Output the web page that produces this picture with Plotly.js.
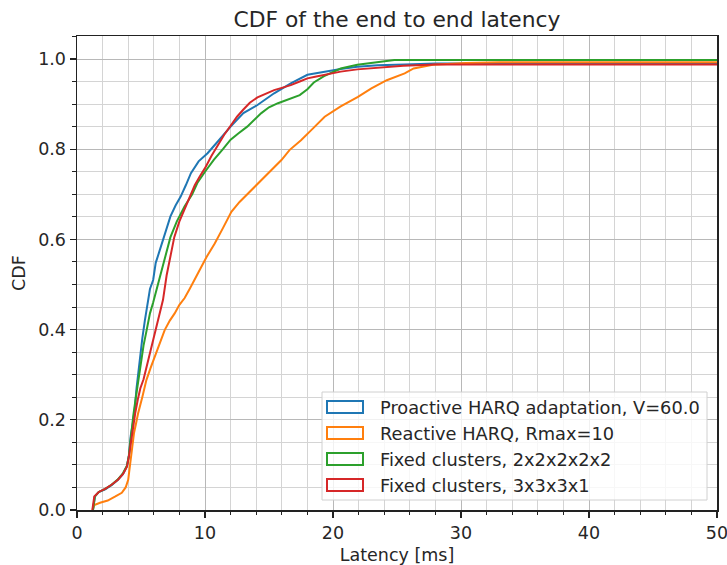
<!DOCTYPE html>
<html>
<head>
<meta charset="utf-8">
<script src="https://cdn.plot.ly/plotly-3.0.1.min.js"></script>
<style>html,body{margin:0;padding:0;background:#fff;}#chart{width:727px;height:565px;}</style>
</head>
<body>
<div id="chart"></div>
<script>
// Series names
const seriesNames = [
  "Proactive HARQ adaptation, V=60.0",
  "Reactive HARQ, Rmax=10",
  "Fixed clusters, 2x2x2x2x2",
  "Fixed clusters, 3x3x3x1"
];
const seriesColors = ["#1f77b4", "#ff7f0e", "#2ca02c", "#d62728"];

// Latency [ms] and CDF values
const proactiveX = [1.25,1.4,1.7,2.2,2.7,3.2,3.6,3.9,4.05,4.2,4.35,4.5,4.65,4.8,4.95,5.1,5.3,5.5,5.7,5.95,6.15,6.4,6.65,7.0,7.3,7.7,8.1,8.5,8.9,9.5,10.2,11.0,12.0,13.0,14.1,15.4,16.7,18.0,19.3,20.6,21.9,23.5,25.6,28,50];
const proactiveY = [0,0.03,0.04,0.046,0.055,0.067,0.08,0.097,0.12,0.165,0.19,0.22,0.27,0.31,0.34,0.38,0.42,0.46,0.49,0.51,0.548,0.57,0.592,0.625,0.651,0.675,0.695,0.72,0.747,0.773,0.791,0.817,0.85,0.88,0.898,0.924,0.946,0.965,0.972,0.978,0.983,0.986,0.988,0.99,0.99];

const reactiveX = [1.2,1.35,1.8,2.4,3.0,3.5,3.8,4.0,4.1,4.25,4.45,4.6,4.77,5.1,5.42,5.75,6.07,6.45,6.85,7.25,7.63,8.0,8.41,8.8,9.2,9.45,10.1,10.76,11.4,12.06,12.7,13.36,14.0,14.66,15.3,15.97,16.6,17.5,18.4,19.35,20.6,21.95,23.0,24.2,25.6,26.3,27.8,30.4,33,50];
const reactiveY = [0,0.011,0.016,0.021,0.03,0.038,0.05,0.067,0.09,0.13,0.17,0.19,0.214,0.25,0.288,0.315,0.34,0.37,0.399,0.42,0.436,0.455,0.47,0.49,0.51,0.525,0.56,0.591,0.625,0.661,0.683,0.702,0.72,0.739,0.758,0.776,0.798,0.82,0.845,0.872,0.895,0.916,0.935,0.953,0.968,0.979,0.987,0.991,0.993,0.993];

const fixed2X = [1.25,1.4,1.7,2.2,2.7,3.2,3.6,3.9,4.05,4.2,4.4,4.6,4.8,5.0,5.2,5.45,5.7,5.95,6.2,6.5,6.8,7.3,7.8,8.4,9.0,9.4,10.0,10.7,11.4,12.0,12.6,13.3,14.4,15.0,15.7,16.7,17.4,18.0,18.5,19.3,20.0,20.6,21.9,23.2,24.8,50];
const fixed2Y = [0,0.03,0.04,0.047,0.056,0.068,0.082,0.098,0.12,0.16,0.21,0.25,0.29,0.33,0.365,0.4,0.436,0.46,0.488,0.52,0.55,0.605,0.64,0.673,0.7,0.725,0.75,0.777,0.8,0.821,0.835,0.85,0.88,0.893,0.902,0.913,0.92,0.933,0.948,0.962,0.972,0.979,0.987,0.992,0.998,0.998];

const fixed3X = [1.2,1.35,1.7,2.2,2.7,3.2,3.6,3.9,4.05,4.2,4.35,4.55,4.75,4.95,5.2,5.45,5.7,5.95,6.2,6.45,6.72,7.0,7.3,7.6,8.0,8.4,8.8,9.2,9.6,10.0,10.5,11.0,11.5,12.0,12.5,13.0,13.5,14.1,14.8,15.4,16.0,16.7,17.4,18.0,18.7,19.3,20.6,21.9,23.5,25.5,28,50];
const fixed3Y = [0,0.03,0.04,0.047,0.056,0.067,0.08,0.096,0.118,0.15,0.18,0.215,0.245,0.27,0.29,0.32,0.35,0.38,0.406,0.44,0.466,0.52,0.56,0.605,0.64,0.668,0.695,0.72,0.74,0.758,0.785,0.81,0.832,0.852,0.872,0.888,0.903,0.915,0.924,0.931,0.936,0.942,0.95,0.957,0.961,0.965,0.972,0.977,0.981,0.985,0.988,0.988];

const xTickVals = [0,10,20,30,40,50];
const xTickText = ["0","10","20","30","40","50"];
const yTickVals = [0,0.2,0.4,0.6,0.8,1.0];
const yTickText = ["0.0","0.2","0.4","0.6","0.8","1.0"];

const xs = [proactiveX, reactiveX, fixed2X, fixed3X];
const ys = [proactiveY, reactiveY, fixed2Y, fixed3Y];

const traces = seriesNames.map((n, i) => ({
  type: "scatter", mode: "lines", name: n,
  x: xs[i], y: ys[i],
  line: {color: seriesColors[i], width: 2, shape: "linear"},
  showlegend: false, hoverinfo: "skip"
}));

// plot area in pixels
const W = 727, H = 565;
const L = 77, R = 717, T = 36, B = 510;
const px = v => (v - L) / (R - L);
const py = v => (B - v) / (B - T);

const font = "DejaVu Sans, sans-serif";
const txt = "#262626";

const shapes = [];
const annotations = [];
// legend box
shapes.push({type: "rect", xref: "paper", yref: "paper",
  x0: px(322), x1: px(707), y0: py(500), y1: py(392),
  fillcolor: "rgba(255,255,255,0.8)", line: {color: "#d0d0d0", width: 1}, layer: "above"});
const rowY = [407, 433, 459, 485];
seriesNames.forEach((n, i) => {
  shapes.push({type: "rect", xref: "paper", yref: "paper",
    x0: px(327), x1: px(363), y0: py(rowY[i] + 6), y1: py(rowY[i] - 6),
    fillcolor: "rgba(0,0,0,0)", line: {color: seriesColors[i], width: 2}, layer: "above"});
  annotations.push({xref: "paper", yref: "paper", x: px(378), y: py(rowY[i]),
    xanchor: "left", yanchor: "middle", showarrow: false, text: n,
    font: {family: font, size: 17.8, color: txt}});
});

const layout = {
  width: W, height: H,
  margin: {l: L, r: W - R, t: T, b: H - B, pad: 0},
  paper_bgcolor: "#fff", plot_bgcolor: "#fff",
  title: {text: "CDF of the end to end latency", font: {family: font, size: 21.8, color: txt},
    x: (L + R) / 2 / W, xanchor: "center", y: 1 - 19 / H, yanchor: "middle", yref: "container"},
  font: {family: font, size: 17.5, color: txt},
  xaxis: {
    range: [-0.0001, 50.0001], tickvals: xTickVals, ticktext: xTickText,
    ticklabeloverflow: "allow",
    showline: true, linecolor: "#222", linewidth: 1.5, mirror: true,
    ticks: "outside", ticklen: 6, tickwidth: 1.4, tickcolor: "#222",
    showgrid: true, gridcolor: "#b8b8b8", gridwidth: 1,
    minor: {dtick: 2, tick0: 0, ticks: "outside", ticklen: 3.5, tickwidth: 1, tickcolor: "#222", showgrid: true, gridcolor: "#d4d4d4", gridwidth: 1},
    zeroline: false,
    title: {text: "Latency [ms]", font: {family: font, size: 17.5, color: txt}, standoff: 7},
    tickfont: {family: font, size: 17.5, color: txt}
  },
  yaxis: {
    range: [0, 1.051], tickvals: yTickVals, ticktext: yTickText,
    showline: true, linecolor: "#222", linewidth: 1.5, mirror: true,
    ticks: "outside", ticklen: 6, tickwidth: 1.4, tickcolor: "#222",
    showgrid: true, gridcolor: "#b8b8b8", gridwidth: 1,
    minor: {dtick: 0.05, tick0: 0, ticks: "outside", ticklen: 3.5, tickwidth: 1, tickcolor: "#222", showgrid: true, gridcolor: "#d4d4d4", gridwidth: 1},
    zeroline: false,
    title: {text: "CDF", font: {family: font, size: 17.5, color: txt}, standoff: 8},
    tickfont: {family: font, size: 17.5, color: txt}
  },
  shapes: shapes,
  annotations: annotations,
  showlegend: false
};

Plotly.newPlot("chart", traces, layout, {staticPlot: true, displayModeBar: false});
</script>
</body>
</html>
